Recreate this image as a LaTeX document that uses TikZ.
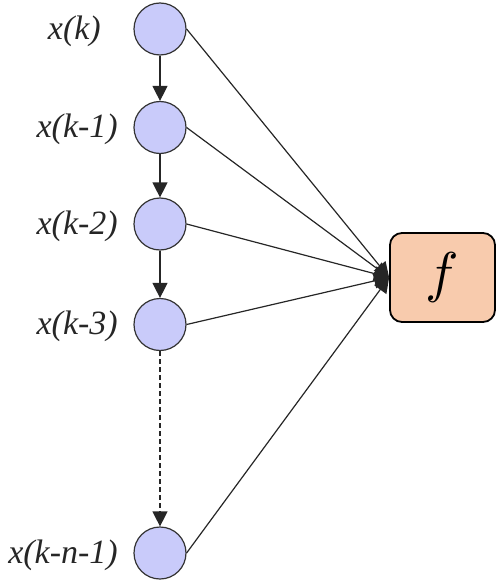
\documentclass[tikz,border=0pt]{standalone}
\usepackage{fontspec}
\setmainfont{Liberation Serif}
\newfontfamily\lblfont{Liberation Serif Italic}
\usetikzlibrary{arrows.meta}
\definecolor{circfill}{HTML}{C9CBFA}
\definecolor{boxfill}{HTML}{F8CBAD}
\begin{document}
\begin{tikzpicture}[x=1pt,y=-1pt,
 neuron/.style={circle,draw=black!80,fill=circfill,line width=1.2pt,minimum size=52pt,inner sep=0pt},
 lbl/.style={font=\lblfont\fontsize{34}{36}\selectfont,anchor=east,inner sep=0pt,text=black!85},
 fnbox/.style={draw=black,fill=boxfill,rounded corners=12pt,line width=1.8pt,minimum width=105pt,minimum height=89pt,inner sep=0pt},
 conn/.style={line width=1.2pt,draw=black!85,-{Triangle[length=15pt,width=15pt]}},
]
\useasboundingbox (0,0) rectangle (500,583);
\node[neuron] (c1) at (160,29) {};
\node[neuron] (c2) at (160,127.5) {};
\node[neuron] (c3) at (160,224) {};
\node[neuron] (c4) at (160,324.5) {};
\node[neuron] (c5) at (160,553) {};
\node[lbl] (l1) at (101,31) {x(k)};
\node[lbl] (l2) at (118,129) {x(k-1)};
\node[lbl] (l3) at (118,226) {x(k-2)};
\node[lbl] (l4) at (118,326) {x(k-3)};
\node[lbl] (l5) at (118,555) {x(k-n-1)};
\node[fnbox] (f) at (442.5,277.5) {};
\node[scale=5.6,inner sep=0pt] (ftext) at (f.center) {$f$};
\draw[conn] (c1) -- (c2);
\draw[conn] (c2) -- (c3);
\draw[conn] (c3) -- (c4);
\draw[conn,dash pattern=on 5pt off 3pt] (c4) -- (c5);
\foreach \c in {c1,c2,c3,c4,c5}
  \draw[conn] (\c.east) -- (f.west);
\end{tikzpicture}
\end{document}
